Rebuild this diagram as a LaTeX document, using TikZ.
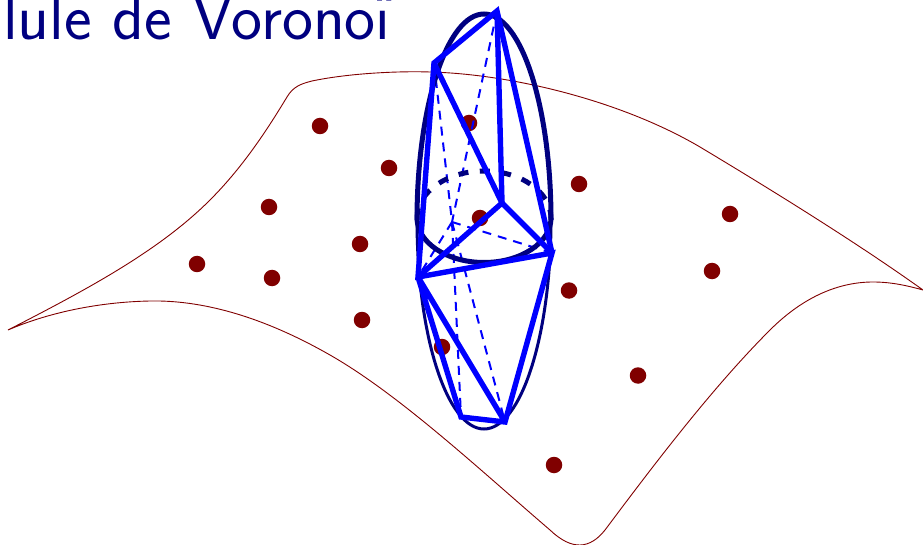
\documentclass[tikz,border=0pt]{standalone}
\definecolor{bleunuit}{RGB}{0,0,128}
\definecolor{bleuvif}{RGB}{0,0,255}
\definecolor{rougesombre}{RGB}{128,0,0}
\tikzset{
    germe/.style={circle, fill=rougesombre, inner sep=0pt, minimum size=16.5pt},
    arete/.style={bleuvif, line width=5.4pt, line join=miter, miter limit=3},
    cachee/.style={bleuvif, line width=2pt, dash pattern=on 9pt off 7pt},
}
\begin{document}
\begin{tikzpicture}[x=1pt, y=-1pt]

    \useasboundingbox (0,0) rectangle (923,545);
    \clip (0,0) rectangle (923,545);

    % 1. Titre
    \node[anchor=base west, inner sep=0pt, text=bleunuit] (titre) at (3,39.5)
        {\fontsize{65.8}{68}\sffamily\selectfont lule de Vorono\rlap{\makebox[.239em]{\raisebox{0.8pt}{\"{}}}}\i};

    % 2. Surface
    \draw[rougesombre, line width=0.9pt] (8,330)
        .. controls (90,288) and (160,250) .. (210,200)
        .. controls (245,165) and (270,125) .. (287,97)
        .. controls (293,87) and (300,84) .. (312,81)
        .. controls (350,73) and (400,71) .. (430,72)
        .. controls (510,74) and (620,100) .. (700,147)
        .. controls (780,195) and (860,245) .. (923,290)
        .. controls (905,285) and (890,282) .. (873,282)
        .. controls (835,282) and (800,300) .. (770,330)
        .. controls (710,390) and (650,470) .. (605,530)
        .. controls (590,549) and (572,551) .. (550,530)
        .. controls (480,470) and (400,395) .. (330,355)
        .. controls (260,315) and (200,300) .. (150,301)
        .. controls (100,302) and (50,312) .. (8,330) -- cycle;

    % 3. Germes
    \foreach \nom/\px/\py in {a/320/126, b/389/168, c/269/207, d/360/244,
        e/197/264, f/272/278, g/362/320, h/469/123, i/480/218, j/579/184,
        k/730/214, l/712/271, m/569/290.5, n/442/347, o/638/375.5, p/554/465}
        \node[germe] (\nom) at (\px,\py) {};

    % 4. Sommets de la cellule
    \coordinate (sA) at (497,11);
    \coordinate (sB) at (434,63);
    \coordinate (sC) at (502,203);
    \coordinate (sD) at (552,253);
    \coordinate (sE) at (418,277);
    \coordinate (sF) at (461,417);
    \coordinate (sG) at (505,422);
    \coordinate (sH) at (452,222);

    % 5. Aretes cachees
    \draw[cachee] (sA) -- (sH);
    \draw[cachee] (sB) -- (sH);
    \draw[cachee] (sH) -- (sD);
    \draw[cachee] (sH) -- (sE);
    \draw[cachee] (sH) -- (sF);
    \draw[cachee] (sH) -- (sG);

    % 6. Sphere
    \draw[bleunuit, line width=5pt] (417,220) arc[start angle=180, end angle=360, x radius=67, y radius=206];
    \draw[bleunuit, line width=3pt] (551,220) arc[start angle=0, end angle=180, x radius=67, y radius=209];
    \draw[bleunuit, line width=5pt] (417,218) arc[start angle=180, end angle=0, x radius=67, y radius=44.5];
    \draw[bleunuit, line width=5pt, dash pattern=on 10pt off 11.5pt] (417,218) arc[start angle=180, end angle=360, x radius=67, y radius=47];

    % 7. Aretes visibles
    \draw[arete] (sD) -- (sA) -- (sB) -- (sE) -- (sD) -- (sG) -- (sF) -- (sE) -- (sG);
    \draw[arete] (sA) -- (sC);
    \draw[arete] (sB) -- (sC);
    \draw[arete] (sC) -- (sD);
    \draw[arete] (sC) -- (sE);

\end{tikzpicture}
\end{document}
